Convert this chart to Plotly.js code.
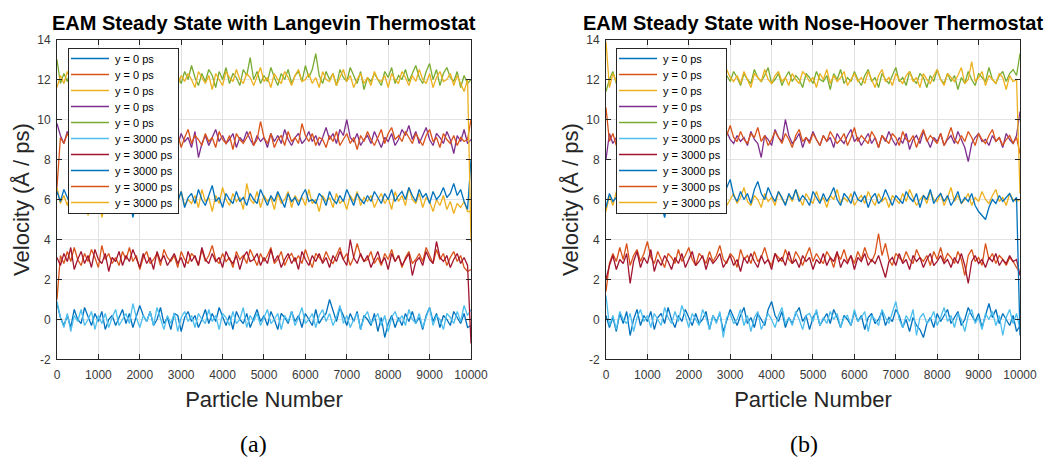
<!DOCTYPE html>
<html>
<head>
<meta charset="utf-8">
<script src="https://cdn.plot.ly/plotly-3.0.1.min.js"></script>
<style>html,body{margin:0;padding:0;background:#fff;}#chart{width:1057px;height:460px;}</style>
</head>
<body>
<div id="chart"></div>
<script>
// Particle index axis: 121 samples spanning particles 0..10000
const nSamples = 121;
const particleNumber = Array.from({length: nSamples}, (_, i) => i * 10000 / (nSamples - 1));

const xTickVals = [0,1000,2000,3000,4000,5000,6000,7000,8000,9000,10000];
const xTickText = ['0','1000','2000','3000','4000','5000','6000','7000','8000','9000','10000'];
const yTickVals = [-2,0,2,4,6,8,10,12,14];
const yTickText = ['-2','0','2','4','6','8','10','12','14'];

const legendNames = ["y = 0 ps","y = 0 ps","y = 0 ps","y = 0 ps","y = 0 ps",
                     "y = 3000 ps","y = 3000 ps","y = 3000 ps","y = 3000 ps","y = 3000 ps"];
const seriesColors = ["#0072BD","#D95319","#EDB120","#7E2F8E","#77AC30",
                      "#4DBEEE","#A2142F","#0072BD","#D95319","#EDB120"];

// ---------- (a) Langevin thermostat ----------
const a_blue0 = [0.8,0.1,-0.3,0.2,-0.4,0.5,0.0,-0.2,0.6,0.1,-0.3,0.3,-0.1,0.4,-0.5,0.0,0.2,-0.3,0.1,0.5,
-0.2,0.3,-0.4,0.1,0.7,0.2,-0.1,0.4,-0.3,0.0,0.6,-0.2,0.1,-0.5,0.3,0.2,-0.6,0.1,0.4,-0.1,
0.2,-0.4,0.0,0.5,-0.2,0.3,-0.1,0.6,0.1,-0.3,0.2,-0.5,0.4,0.0,-0.2,0.3,-0.4,0.1,0.5,-0.1,
0.2,-0.3,0.4,0.0,-0.5,0.3,0.1,-0.2,0.4,-0.1,0.2,-0.4,0.3,0.0,-0.3,0.5,-0.2,0.1,0.3,1.0,
0.4,-0.1,0.6,0.2,-0.3,0.3,-0.1,0.4,-0.5,0.2,0.0,-0.3,0.3,-0.6,0.1,-0.9,-0.2,0.2,-0.4,0.1,
-0.3,0.3,-0.1,0.4,-0.2,0.1,-0.5,0.2,0.6,-0.1,0.3,-0.4,0.2,0.0,-0.3,0.4,0.1,-0.2,0.3,-0.4,
-0.3];
const a_orange0 = [1.0,3.2,2.8,3.4,2.9,3.6,3.0,2.7,3.3,2.9,3.5,3.1,2.6,3.7,3.0,3.3,2.8,3.1,2.7,3.4,
3.0,3.6,2.9,3.2,2.5,3.1,3.4,2.8,3.0,3.3,2.7,3.5,3.1,2.9,3.2,2.6,3.4,3.0,2.8,3.3,
3.1,2.7,3.5,2.9,3.2,3.7,3.0,2.8,3.3,2.9,3.1,2.6,3.4,3.0,3.2,2.8,3.5,3.1,2.7,3.3,
2.9,3.2,3.6,2.8,3.0,3.4,2.7,3.1,3.3,2.9,3.2,2.8,3.5,3.0,2.6,3.3,3.1,2.9,3.4,3.0,
2.8,3.2,3.6,3.0,3.3,2.7,3.1,3.8,3.2,2.9,3.0,3.4,2.8,3.1,2.7,3.3,3.0,3.5,2.9,3.2,
2.6,3.1,3.4,2.8,3.0,3.3,2.9,3.6,3.2,2.8,3.5,3.0,3.3,2.7,3.1,3.4,2.9,3.2,2.6,2.4,
2.5];
const a_yellow0 = [6.6,5.8,6.2,5.7,6.4,5.9,6.1,5.5,6.3,5.2,6.0,5.6,6.2,5.1,5.8,6.3,5.5,6.1,5.9,6.4,
5.7,6.2,5.8,6.0,5.4,6.3,5.9,6.1,5.6,6.5,5.8,6.0,6.3,5.5,6.1,5.9,6.4,5.7,6.0,5.8,
6.2,5.6,6.5,5.9,6.1,5.4,6.2,5.8,6.6,6.0,5.7,6.3,5.9,6.1,5.5,6.8,6.0,5.8,6.4,5.6,
6.2,5.9,6.1,5.5,6.3,5.8,6.0,6.4,5.6,6.2,5.9,6.1,5.7,6.5,5.8,6.0,5.4,6.2,5.9,6.1,
5.6,6.3,5.8,6.0,5.5,6.2,5.9,6.4,5.7,6.1,5.9,6.2,5.6,6.0,6.3,5.8,6.1,5.5,6.4,5.9,
6.2,5.7,6.6,6.0,5.8,6.3,5.6,6.1,5.9,5.4,6.0,5.7,6.2,5.5,5.9,5.3,5.8,5.6,5.9,5.4,
5.4];
const a_purple0 = [9.8,9.2,8.8,9.4,9.0,8.7,9.3,9.1,8.9,9.5,9.0,8.6,9.2,8.9,9.4,8.8,9.1,8.5,9.0,8.3,
7.9,8.6,8.2,8.9,8.4,9.1,8.7,9.3,8.9,9.0,8.6,9.2,8.8,9.5,9.0,8.7,9.3,8.9,9.1,8.6,
9.4,8.1,8.8,9.2,8.7,9.1,9.5,8.9,9.2,8.8,9.0,9.3,8.6,9.1,8.9,9.4,9.0,8.7,9.2,8.9,
9.1,8.6,9.3,8.9,9.2,8.8,9.5,9.0,8.7,9.1,9.3,8.8,9.0,9.4,8.9,9.2,8.7,9.1,9.6,9.0,
9.3,8.8,9.5,9.2,10.0,9.1,8.9,9.3,8.7,9.0,9.2,8.8,9.4,9.0,8.6,9.1,8.9,9.3,8.7,9.0,
9.5,9.2,9.7,9.0,9.4,8.8,9.2,9.6,9.0,8.7,9.3,9.1,8.8,9.4,9.0,8.3,9.2,8.9,9.5,8.8,
9.0];
const a_green0 = [13.0,11.8,12.3,11.9,12.5,12.1,11.7,12.4,12.0,12.6,11.8,12.2,11.6,12.4,12.1,12.7,11.9,12.3,11.7,12.5,
12.0,12.6,11.8,12.2,12.8,12.1,11.7,12.4,12.0,12.3,11.6,12.5,12.1,11.9,12.6,12.2,11.8,12.4,12.0,12.7,
12.1,11.7,12.3,11.9,12.5,12.2,11.6,12.4,12.0,12.6,11.8,12.3,12.1,11.7,12.5,12.2,13.1,12.0,12.4,11.8,
12.2,11.9,12.6,12.1,11.7,12.3,12.0,12.5,11.8,12.2,12.4,11.9,12.7,12.1,12.5,13.3,12.2,11.8,12.4,12.0,
12.3,11.7,12.5,12.1,11.9,12.6,12.2,11.8,12.4,11.5,12.1,11.9,12.3,12.0,11.7,12.4,12.1,12.6,11.8,12.2,
12.0,12.5,11.9,12.3,12.7,12.1,11.8,12.4,12.8,12.0,12.5,11.7,12.3,12.6,12.1,11.9,12.4,11.6,12.2,11.8,
12.0];
const a_lightblue3000 = [0.9,0.1,-0.4,0.3,-0.6,0.2,-0.1,0.5,-0.3,0.0,0.4,-0.5,0.2,-0.2,0.3,-0.4,0.1,0.5,-0.3,0.0,
0.3,-0.2,0.8,0.1,-0.4,0.2,-0.1,0.4,-0.3,0.6,0.0,-0.5,0.2,-0.2,0.3,-0.6,0.1,0.4,-0.1,0.2,
-0.4,0.3,0.0,-0.2,0.5,-0.1,0.2,-0.5,0.3,0.1,-0.3,0.4,-0.2,0.0,0.6,-0.4,0.2,-0.1,0.3,-0.3,
0.1,0.5,-0.2,0.0,0.3,-0.5,0.2,-0.1,0.4,-0.3,0.1,0.6,-0.2,0.0,0.3,-0.4,0.2,0.5,-0.1,0.3,
-0.3,0.1,0.7,-0.2,0.2,-0.4,0.0,0.3,-0.5,0.1,0.4,-0.2,0.0,0.3,-0.3,0.2,-0.6,0.1,0.4,-0.1,
0.2,-0.3,0.5,0.0,-0.2,0.3,-0.4,0.1,0.6,-0.3,0.2,0.0,-0.5,0.3,0.1,-0.2,0.4,-0.1,0.7,0.2,
0.5];
const a_darkred3000 = [3.1,2.7,3.3,2.9,3.6,2.5,3.0,3.4,2.8,3.2,2.6,3.5,3.0,2.8,3.3,2.4,3.1,2.9,3.4,2.7,
3.2,2.9,3.5,3.0,2.6,3.3,2.8,3.1,2.5,3.4,2.9,3.2,2.7,3.0,3.3,2.8,3.1,2.6,3.4,2.9,
3.2,2.7,3.6,3.0,2.8,3.3,2.9,3.1,2.6,3.4,3.0,2.8,3.2,2.5,3.1,3.4,2.9,3.0,3.3,2.7,
3.1,2.8,3.5,2.9,3.2,2.6,3.0,3.3,2.8,3.1,2.5,3.4,3.0,2.7,3.2,2.9,3.3,2.8,3.1,2.6,
3.2,2.9,3.4,3.0,2.7,4.0,3.1,2.8,3.3,2.9,3.2,2.6,3.0,3.4,2.8,3.1,2.5,3.3,2.9,3.2,
2.7,3.0,3.3,2.2,2.9,3.1,2.7,3.4,3.0,2.8,3.9,3.1,2.9,3.2,2.6,3.0,3.3,2.8,3.1,2.7,
-1.2];
const a_blue3000 = [6.4,5.9,6.5,6.1,5.7,6.3,5.8,6.2,5.5,6.0,6.4,5.8,6.1,5.6,6.2,5.9,6.5,5.7,6.0,6.3,
5.8,6.1,5.1,5.9,6.2,5.7,6.4,6.0,5.8,6.3,5.9,6.6,6.1,5.7,6.2,5.9,6.4,5.6,6.1,6.3,
5.8,6.5,6.0,5.7,6.2,6.7,5.9,6.1,5.6,6.3,6.0,5.8,6.4,5.9,6.1,5.7,6.3,6.0,5.8,6.5,
6.1,5.7,6.2,5.9,6.4,6.0,5.6,6.3,5.9,6.1,5.7,6.2,6.5,5.9,6.0,5.8,6.3,6.1,5.7,6.4,
6.0,5.8,6.2,5.9,6.5,6.1,5.7,6.3,6.0,5.8,6.2,5.9,6.4,6.1,5.8,6.3,6.0,6.5,5.9,6.2,
6.4,6.0,6.6,6.2,5.9,6.5,6.1,6.3,5.8,6.4,6.0,6.2,6.6,6.1,6.3,6.8,6.2,6.5,5.9,5.5,
8.0];
const a_orange3000 = [6.6,9.1,8.8,9.3,8.9,9.5,9.0,8.7,9.2,8.9,9.4,8.6,9.1,8.8,9.3,9.0,8.7,9.2,9.6,8.9,
9.1,8.8,9.4,9.0,8.6,9.3,8.9,9.5,9.1,8.8,9.2,8.7,9.4,9.0,8.9,9.3,8.6,9.1,9.5,8.8,
9.2,9.0,8.7,9.3,8.9,9.1,8.6,9.4,9.0,8.8,9.2,8.5,9.3,9.0,8.8,9.1,9.4,8.7,9.0,9.9,
9.1,8.8,9.3,8.6,9.0,9.2,8.7,9.4,8.9,9.1,8.8,9.8,9.2,8.9,9.3,8.7,9.1,9.0,8.6,9.2,
8.9,9.4,8.7,9.0,9.3,8.8,9.1,8.5,9.2,8.9,9.4,9.0,8.7,9.1,9.5,8.8,9.3,9.6,9.0,9.2,
8.9,9.4,9.1,8.8,9.3,9.0,8.7,9.2,9.5,8.9,9.1,8.6,9.3,9.0,8.8,9.2,8.7,9.1,8.9,9.0,
10.0];
const a_yellow3000 = [11.6,12.2,11.8,12.4,11.9,12.3,12.0,11.7,12.5,12.1,11.8,12.3,11.6,12.2,12.0,12.6,11.9,12.1,11.5,12.3,
12.0,11.8,12.4,12.1,11.7,12.5,12.0,11.9,12.3,11.6,12.2,12.5,11.8,12.0,12.4,11.7,12.2,11.9,12.3,12.0,
11.6,12.4,12.1,11.8,12.2,11.5,12.3,12.0,11.7,12.4,12.1,11.9,12.5,12.0,11.8,12.3,12.1,11.7,12.2,12.6,
11.9,12.1,11.6,12.3,12.0,11.8,12.4,12.1,11.7,12.2,12.5,11.9,12.0,12.3,11.8,12.1,11.6,12.4,12.0,11.9,
12.3,11.7,12.1,12.5,11.9,12.2,11.6,12.0,12.3,11.8,12.1,11.7,12.4,12.0,11.9,12.2,11.6,12.3,12.0,11.8,
12.4,12.1,11.7,12.2,11.9,12.5,12.0,11.8,12.3,11.6,12.1,12.4,11.9,12.0,12.3,11.7,12.2,11.8,11.4,12.0,
3.9];

// ---------- (b) Nose-Hoover thermostat ----------
const b_blue0 = [0.2,-0.4,0.1,-0.6,0.3,-0.2,0.4,-0.8,0.0,0.5,-0.3,0.2,-0.1,0.4,-0.5,0.1,0.3,-0.2,0.6,0.0,
-0.4,0.2,-0.1,0.5,0.1,-0.3,0.3,-0.2,0.0,0.4,-0.5,0.2,-0.1,0.3,-0.6,0.0,0.5,0.1,-0.3,0.2,
0.6,-0.2,0.1,-0.4,0.3,0.0,-0.3,0.5,0.9,0.2,-0.1,0.4,-0.4,0.1,-0.2,0.3,0.6,-0.1,0.2,-0.5,
0.1,0.4,-0.3,0.0,0.3,-0.2,0.5,0.1,-0.4,0.2,0.0,-0.3,0.4,-0.1,0.2,-0.5,0.1,0.3,-0.2,0.0,
0.4,-0.3,0.1,-0.1,0.5,0.2,-0.4,0.0,-0.6,0.1,-0.3,-0.5,-0.9,-0.2,0.1,-0.4,0.3,-0.1,0.2,0.5,
-0.2,0.1,0.4,-0.3,0.0,0.6,0.2,-0.1,0.3,-0.4,0.2,0.8,0.1,0.5,-0.2,0.3,0.0,-0.3,0.2,-0.6,
-0.3];
const b_orange0 = [1.4,2.8,3.3,2.9,3.6,3.0,3.8,2.7,3.2,3.5,2.9,3.3,3.9,3.1,2.8,3.4,3.0,2.6,3.3,3.1,
2.8,3.5,2.9,3.2,3.6,3.0,2.7,3.3,3.1,2.8,3.4,2.9,3.2,3.7,3.0,2.8,3.3,3.1,2.6,3.5,
3.0,3.2,2.8,3.4,2.9,3.1,3.6,3.0,2.7,3.3,3.1,2.9,3.5,3.0,2.8,3.4,3.1,2.7,3.2,3.6,
2.9,3.3,3.0,2.8,3.4,3.1,2.6,3.3,3.0,3.5,2.9,3.2,2.8,3.4,3.0,3.6,3.1,2.9,3.3,4.3,
3.2,3.8,3.0,2.7,3.3,3.1,2.9,3.4,3.0,2.8,3.5,3.1,2.9,3.2,2.7,3.4,3.0,3.6,2.9,3.3,
3.1,2.8,3.4,3.0,2.2,3.2,3.5,2.9,3.1,2.7,3.8,3.0,3.3,2.8,3.2,3.0,2.7,3.1,2.9,2.6,
2.3];
const b_yellow0 = [5.4,6.2,5.7,6.4,5.9,6.1,5.5,6.3,5.8,6.0,6.5,5.7,6.2,5.9,6.1,5.6,6.3,6.0,5.8,6.4,
5.9,6.1,5.6,6.2,5.9,6.5,5.7,6.0,6.3,5.8,6.1,5.5,6.4,5.9,6.2,5.7,6.0,6.3,5.8,6.1,
6.6,5.9,5.7,6.2,6.0,5.6,6.3,5.9,6.1,5.7,6.4,6.0,5.8,6.2,5.9,6.5,6.1,5.7,6.3,6.0,
5.8,6.4,5.9,6.1,5.6,6.2,6.0,6.5,5.8,6.1,5.9,6.3,5.7,6.0,6.2,5.8,6.4,6.0,5.7,6.3,
5.9,6.1,5.6,6.2,6.0,5.8,6.3,5.9,6.5,6.1,5.7,6.0,6.2,5.8,6.4,6.0,5.9,6.3,5.7,6.1,
6.6,5.9,6.2,5.8,6.0,6.3,5.7,6.1,5.9,6.4,6.0,5.8,6.2,6.5,5.9,6.1,5.7,6.3,6.0,5.9,
6.0];
const b_purple0 = [8.0,9.3,8.8,9.1,9.5,8.9,9.2,8.6,9.0,9.4,8.8,9.1,8.7,9.3,9.0,8.5,9.2,8.9,9.4,8.1,
8.8,9.1,8.7,9.3,9.0,8.6,9.2,8.9,9.5,9.0,8.7,9.3,8.9,9.1,8.6,9.4,9.0,8.8,9.2,8.9,
9.1,8.7,9.4,9.0,8.8,8.1,9.2,9.0,8.7,9.5,9.1,8.9,10.0,9.2,8.8,9.0,9.3,8.6,9.1,8.9,
9.4,9.0,8.7,9.2,8.9,9.1,8.6,9.3,9.0,8.8,9.2,9.5,8.9,9.1,8.7,9.0,9.3,8.8,9.1,8.6,
9.2,8.9,9.4,9.0,8.7,9.1,8.8,9.3,8.5,9.0,9.2,8.8,9.4,9.0,8.6,9.1,8.9,9.3,8.7,9.0,
9.2,8.8,9.4,9.0,8.6,7.9,8.8,9.1,9.3,8.9,9.0,8.7,9.2,8.9,9.1,8.6,9.3,9.0,8.8,9.2,
10.4];
const b_green0 = [11.4,12.0,12.4,11.8,12.2,11.6,12.5,12.0,11.8,12.3,11.9,12.6,12.1,11.7,12.4,12.0,11.8,12.2,12.5,11.9,
12.1,11.7,12.3,12.0,12.6,11.8,12.2,12.4,11.9,12.1,11.6,12.3,12.0,12.5,11.8,12.2,11.9,12.4,12.1,11.7,
12.3,12.0,11.8,12.5,12.1,11.9,12.2,12.6,11.8,12.0,12.3,11.7,12.1,12.4,11.9,12.2,12.0,11.6,12.3,12.1,
11.8,12.4,12.0,11.9,12.2,11.5,12.3,12.0,12.5,11.8,12.1,11.9,12.4,12.0,11.7,12.2,12.5,11.9,12.1,11.6,
12.3,12.0,11.8,12.2,12.6,11.9,12.1,11.7,12.4,12.0,11.8,12.3,12.1,11.6,12.2,11.9,12.5,12.0,11.8,12.3,
11.9,12.2,11.5,12.1,11.8,12.4,12.0,11.7,12.3,12.1,11.9,12.6,12.0,11.8,12.2,12.4,11.9,12.3,12.5,12.2,
13.3];
const b_lightblue3000 = [1.2,-0.3,0.2,-0.5,0.4,0.0,-0.2,0.3,-0.6,0.1,0.5,-0.1,0.2,-0.4,0.3,0.0,-0.3,0.6,0.1,-0.2,
0.4,-0.1,0.7,0.2,-0.4,0.3,0.0,-0.3,0.5,0.1,-0.5,0.2,-0.2,0.4,-0.9,0.1,0.3,-0.2,0.0,0.5,
-0.3,0.2,-0.6,0.1,0.4,-0.5,-0.1,0.3,0.0,-0.4,0.2,0.6,-0.2,0.1,-0.3,0.4,0.0,-0.5,0.2,0.3,
-0.1,0.5,-0.3,0.1,-0.2,0.4,0.0,0.3,-0.4,0.1,0.2,-0.3,0.5,-0.1,0.1,0.4,-0.6,0.2,0.0,-0.3,
0.5,0.1,-0.2,0.3,0.9,0.0,-0.4,0.2,-0.1,0.5,-0.8,0.1,0.3,-0.2,0.0,0.4,-0.3,0.1,0.6,-0.1,
0.2,-0.4,0.3,0.0,-0.6,0.2,0.5,-0.2,0.1,-0.5,0.3,0.0,0.4,-0.3,0.2,-0.8,0.1,0.5,-0.2,0.3,
-0.5];
const b_darkred3000 = [2.0,2.7,3.2,2.5,3.0,2.8,3.3,1.8,2.9,3.4,2.6,3.1,2.8,3.5,2.4,3.0,2.7,3.2,2.9,2.5,
3.1,2.8,3.3,2.6,3.0,3.4,2.7,2.9,3.2,2.5,3.1,2.8,3.0,3.3,2.6,2.9,3.2,2.7,3.0,2.4,
3.1,2.8,3.3,2.9,2.6,3.2,2.8,3.0,2.5,3.3,2.9,3.1,2.7,3.4,2.8,3.0,2.6,3.2,2.9,3.1,
2.5,3.0,2.8,3.3,2.7,3.1,2.9,3.4,2.6,3.0,2.8,3.2,2.5,3.1,2.9,3.3,2.7,3.0,2.8,3.2,
2.6,2.1,2.9,3.1,2.7,3.3,2.8,3.0,2.5,3.2,2.9,3.1,2.6,3.0,3.3,2.7,2.9,3.2,2.8,3.0,
2.6,3.1,2.8,3.3,2.7,1.8,2.9,3.2,2.8,3.0,2.6,3.1,2.9,3.3,2.7,3.0,2.8,3.2,2.9,3.0,
2.2];
const b_blue3000 = [5.6,6.3,5.9,6.1,5.5,6.4,5.8,6.2,5.3,6.0,5.7,6.3,5.9,6.1,5.4,6.2,5.8,5.1,6.0,5.6,
6.3,5.9,6.1,5.7,6.4,5.8,6.2,6.0,5.6,6.3,6.0,5.8,6.5,6.1,5.9,6.6,7.0,6.2,5.9,6.4,
6.0,6.3,5.8,6.5,6.9,6.3,6.0,6.6,6.2,5.9,6.4,6.1,5.7,6.3,6.0,6.5,5.9,6.2,6.0,5.7,
6.4,6.1,5.8,6.3,5.9,6.2,6.6,6.0,5.7,6.3,6.1,5.8,6.4,6.0,5.9,6.2,5.6,6.1,6.3,5.8,
6.0,6.5,6.1,5.7,6.2,6.0,5.8,6.4,6.1,5.9,6.3,5.6,6.2,6.0,6.5,5.8,6.1,6.3,5.9,6.2,
5.7,6.0,6.4,5.8,6.1,5.9,6.3,5.7,5.4,5.2,5.0,5.6,6.0,5.8,6.2,5.9,6.1,6.3,5.9,6.1,
-0.8];
const b_orange3000 = [10.6,8.9,9.3,8.7,9.1,9.5,8.8,9.2,9.0,8.6,9.4,9.0,8.8,9.3,9.6,8.9,9.1,8.7,9.2,9.0,
8.8,9.4,9.1,8.9,9.3,8.6,9.0,9.2,8.8,9.5,9.1,8.9,9.3,9.0,8.7,9.2,9.7,9.1,8.9,9.4,
9.0,8.8,9.3,9.1,9.6,8.9,9.2,8.7,9.0,9.4,9.1,8.8,9.3,9.0,8.6,9.2,9.5,8.9,9.1,8.8,
9.3,9.0,8.7,9.2,8.9,9.4,9.1,8.8,9.0,9.3,8.7,9.1,9.6,8.9,9.2,9.0,8.8,9.4,9.1,8.6,
9.2,9.0,8.8,9.3,9.1,8.7,9.4,9.0,8.9,9.2,8.6,9.1,9.5,8.9,9.2,9.0,8.8,9.3,8.7,9.1,
9.6,9.0,8.8,9.2,8.9,9.4,9.1,8.7,9.3,9.0,8.8,9.2,9.5,8.9,9.1,8.7,9.0,9.2,8.8,9.1,
8.3];
const b_yellow3000 = [13.9,11.6,12.3,11.9,12.5,12.0,11.7,12.4,12.1,11.8,12.2,12.6,11.9,12.1,11.5,12.3,12.0,11.8,12.4,12.1,
11.7,12.2,12.5,11.9,12.0,12.3,11.6,12.2,11.9,12.4,12.1,11.8,12.3,12.0,11.7,12.5,12.1,11.9,12.2,11.8,
12.4,12.0,11.6,12.3,12.1,11.9,12.5,12.0,11.8,12.2,12.4,11.9,12.1,11.7,12.3,12.0,11.8,12.4,12.2,11.9,
12.1,11.6,12.3,12.0,12.5,11.8,12.2,11.9,12.1,12.4,11.7,12.0,12.3,11.9,12.1,11.8,12.4,12.0,11.6,12.2,
12.5,11.9,12.1,11.7,12.3,12.0,11.8,12.2,12.4,11.9,12.1,11.6,12.3,12.0,11.8,12.2,12.5,12.0,11.7,12.3,
12.1,11.9,12.2,12.6,11.8,12.0,12.9,11.9,12.1,12.4,11.7,12.2,12.0,11.8,12.3,12.1,11.5,12.2,11.9,12.0,
6.3];

const panelA = [a_blue0, a_orange0, a_yellow0, a_purple0, a_green0,
                a_lightblue3000, a_darkred3000, a_blue3000, a_orange3000, a_yellow3000];
const panelB = [b_blue0, b_orange0, b_yellow0, b_purple0, b_green0,
                b_lightblue3000, b_darkred3000, b_blue3000, b_orange3000, b_yellow3000];

const traces = [];
panelA.forEach((ys, i) => traces.push({
  type: 'scatter', mode: 'lines', x: particleNumber, y: ys, name: legendNames[i],
  line: {color: seriesColors[i], width: 1.3}, xaxis: 'x', yaxis: 'y', legend: 'legend'
}));
panelB.forEach((ys, i) => traces.push({
  type: 'scatter', mode: 'lines', x: particleNumber, y: ys, name: legendNames[i],
  line: {color: seriesColors[i], width: 1.3}, xaxis: 'x2', yaxis: 'y2', legend: 'legend2'
}));

const FONT = 'Liberation Sans, Arial, Helvetica, sans-serif';
const axisCommon = {
  showline: true, linecolor: '#262626', linewidth: 1, mirror: 'ticks',
  ticks: 'inside', ticklen: 5, tickwidth: 1, tickcolor: '#262626',
  showgrid: true, gridcolor: '#e2e2e2', gridwidth: 1, zeroline: false,
  tickfont: {family: FONT, size: 12, color: '#383838'}
};
function xAxis(domain, anchor) {
  return Object.assign({}, axisCommon, {
    domain: domain, anchor: anchor, range: [0, 10000],
    tickmode: 'array', tickvals: xTickVals, ticktext: xTickText,
    ticklabelstandoff: 4,
    title: {text: 'Particle Number', font: {family: FONT, size: 22, color: '#262626'}, standoff: 10}
  });
}
function yAxis(anchor) {
  return Object.assign({}, axisCommon, {
    domain: [0.2185, 0.9141], anchor: anchor, range: [-2, 14],
    tickmode: 'array', tickvals: yTickVals, ticktext: yTickText,
    ticklabelstandoff: 3,
    title: {text: 'Velocity (Å / ps)', font: {family: FONT, size: 22, color: '#262626'}, standoff: 1}
  });
}
const legendCommon = {
  xanchor: 'left', yanchor: 'top', bgcolor: '#ffffff', bordercolor: '#262626', borderwidth: 1,
  font: {family: FONT, size: 11, color: '#000000'}, tracegroupgap: 0, itemwidth: 36
};

const layout = {
  width: 1057, height: 460, margin: {l: 0, r: 0, t: 0, b: 0},
  paper_bgcolor: '#ffffff', plot_bgcolor: '#ffffff', showlegend: true,
  xaxis: xAxis([0.0539, 0.4456], 'y'),
  yaxis: yAxis('x'),
  xaxis2: xAxis([0.5733, 0.9650], 'y2'),
  yaxis2: yAxis('x2'),
  legend: Object.assign({}, legendCommon, {x: 0.0643, y: 0.8957}),
  legend2: Object.assign({}, legendCommon, {x: 0.5828, y: 0.8957}),
  annotations: [
    {text: '<b>EAM Steady State with Langevin Thermostat</b>', xref: 'paper', yref: 'paper',
     x: 0.2498, y: 0.950, xanchor: 'center', yanchor: 'middle', showarrow: false,
     font: {family: FONT, size: 20, color: '#000000'}},
    {text: '<b>EAM Steady State with Nose-Hoover Thermostat</b>', xref: 'paper', yref: 'paper',
     x: 0.7692, y: 0.950, xanchor: 'center', yanchor: 'middle', showarrow: false,
     font: {family: FONT, size: 20, color: '#000000'}},
    {text: '(a)', xref: 'paper', yref: 'paper', x: 0.2403, y: 0.035, xanchor: 'center', yanchor: 'middle',
     showarrow: false, font: {family: 'Liberation Serif, Times New Roman, serif', size: 24, color: '#000000'}},
    {text: '(b)', xref: 'paper', yref: 'paper', x: 0.7607, y: 0.035, xanchor: 'center', yanchor: 'middle',
     showarrow: false, font: {family: 'Liberation Serif, Times New Roman, serif', size: 24, color: '#000000'}}
  ]
};

const gd = document.getElementById('chart');
Plotly.newPlot(gd, traces, layout, {staticPlot: true, displayModeBar: false}).then(() => {
  // tighten legend rows to MATLAB-like 16px spacing and longer line samples
  const legends = gd.querySelectorAll('g.legend, g.legend2');
  legends.forEach(lg => {
    const items = lg.querySelectorAll('g.traces');
    let y0 = null;
    items.forEach((it, i) => {
      const m = /translate\(\s*([-\d.e]+)[ ,]+([-\d.e]+)\s*\)/.exec(it.getAttribute('transform') || '');
      if (!m) return;
      if (y0 === null) y0 = parseFloat(m[2]) - 5;
      it.setAttribute('transform', 'translate(' + m[1] + ',' + (y0 + i * 16) + ')');
    });
    lg.querySelectorAll('g.legendlines path').forEach(p => p.setAttribute('d', 'M2,0h38'));
    const bg = lg.querySelector('rect.bg');
    if (bg) {
      const h = parseFloat(bg.getAttribute('height'));
      bg.setAttribute('height', h - items.length * 3 - 6);
    }
  });
});
</script>
</body>
</html>
